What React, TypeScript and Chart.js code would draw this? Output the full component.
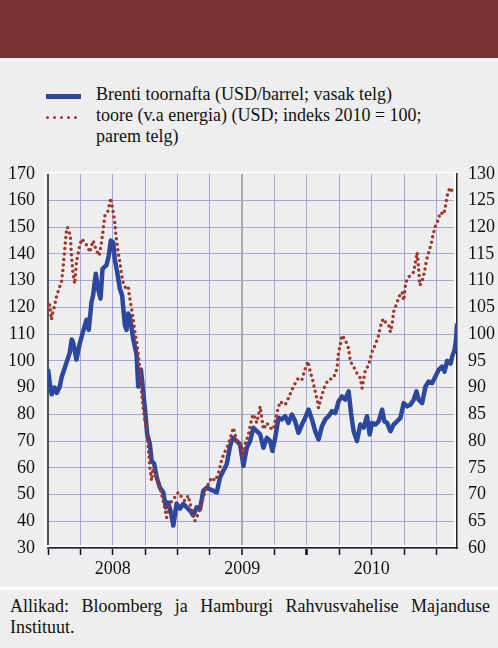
import React, { useEffect, useRef } from 'react';
import { Chart, registerables } from 'chart.js';

Chart.register(...registerables);

// Months since January 2008 (0 = 1 Jan 2008)
const brentMonths = [
  0, 0.16, 0.34, 0.62, 0.81, 1.09, 1.27, 1.74, 2.01, 2.2, 2.32, 2.64, 2.94, 3.25, 3.57, 3.78,
  4.03, 4.18, 4.43, 4.64, 4.87, 5.05, 5.42, 5.64, 5.82, 6.04, 6.19, 6.41, 6.66, 6.87, 7.12,
  7.28, 7.43, 7.59, 7.89, 8.21, 8.36, 8.61, 8.82, 8.98, 9.19, 9.44, 9.6, 9.84, 10.07, 10.37,
  10.68, 10.93, 11.14, 11.39, 11.61, 11.92, 12.23, 12.53, 12.85, 13.16, 13.46, 13.78, 14.09,
  14.39, 14.71, 15.01, 15.32, 15.64, 15.94, 16.25, 16.56, 16.87, 17.12, 17.49, 17.8, 18.11,
  18.42, 18.73, 19.03, 19.35, 19.66, 19.96, 20.28, 20.58, 20.8, 21.05, 21.36, 21.67, 21.98,
  22.28, 22.6, 22.91, 23.21, 23.53, 23.84, 24.14, 24.46, 24.76, 25.07, 25.39, 25.69, 26.0,
  26.31, 26.62, 26.93, 27.24, 27.55, 27.86, 28.08, 28.32, 28.63, 28.94, 29.25, 29.56, 29.81,
  30.03, 30.33, 30.64, 30.96, 31.17, 31.42, 31.73, 32.03, 32.35, 32.66, 32.96, 33.28, 33.58,
  33.89, 34.14, 34.35, 34.67, 34.98, 35.28, 35.6, 35.9, 36.21, 36.53, 36.74, 36.99, 37.3,
  37.48, 37.67, 37.81, 37.9,
];
const brentPrices = [
  97, 92, 87.5, 90, 88, 90.4, 94, 99.7, 103, 108, 107, 100.5, 106.5, 111, 115.4, 111.6,
  122, 124.6, 132.6, 127, 123.3, 134.4, 135.8, 139.5, 145, 144.3, 138, 133.2, 127, 124.5, 113.4,
  111.6, 117.7, 116.5, 108.4, 102.2, 90.4, 96.8, 88.6, 82.4, 72.6, 68.9, 62.6, 61.5, 56.4, 52.6,
  50.8, 45.2, 47, 43.3, 38.4, 46.6, 44.7, 46.5, 45.2, 44, 42.1, 45.2, 44.6,
  51.4, 52.6, 52, 51.4, 50.8, 56.4, 58.9, 61.3, 68.1, 71.2, 70, 68.8, 60.7,
  67.5, 70, 75, 73.7, 72.5, 67.5, 71.2, 70, 66.3, 71.2, 78.7, 78.1, 79.3,
  76.8, 79.9, 77.4, 73.1, 76.2, 78.7, 81.8, 78.1, 73.7, 70.6, 75.6, 78.1, 79.3,
  81.2, 80.5, 84.9, 86.7, 85.5, 88.6, 80.5, 73.7, 70, 76.2, 75, 79.3, 72.5,
  76.8, 76.2, 77.4, 81.8, 77.4, 76.8, 73.7, 76.2, 77.4, 78.7, 84.2, 83, 83.6,
  85.5, 88.6, 85.5, 84.2, 90.4, 92.3, 91.7, 94.2, 96.7, 97.9, 96, 100, 99,
  102, 104, 108, 114,
];

const commodityMonths = [
  0, 0.16, 0.32, 0.46, 0.62, 0.78, 1.02, 1.24, 1.39, 1.55, 1.71, 1.8, 1.95, 2.08, 2.17, 2.32,
  2.48, 2.64, 2.88, 3.1, 3.41, 3.71, 3.87, 4.18, 4.49, 4.74, 4.96, 5.11, 5.26, 5.57, 5.73,
  5.82, 6.04, 6.19, 6.29, 6.5, 6.66, 6.82, 6.96, 7.21, 7.43, 7.59, 7.74, 7.89, 8.05, 8.21,
  8.36, 8.51, 8.67, 8.82, 8.98, 9.14, 9.29, 9.44, 9.6, 9.75, 10.07, 10.37, 10.68, 10.99, 11.3,
  11.76, 12.07, 12.39, 12.69, 13.0, 13.31, 13.62, 13.93, 14.24, 14.55, 14.86, 15.17, 15.48,
  15.78, 16.1, 16.41, 16.71, 16.94, 17.18, 17.49, 17.8, 18.05, 18.26, 18.57, 18.89, 19.03,
  19.35, 19.66, 19.96, 20.28, 20.58, 20.89, 21.21, 21.51, 21.98, 22.28, 22.6, 22.91, 23.21,
  23.53, 23.84, 24.09, 24.3, 24.55, 24.76, 24.98, 25.07, 25.39, 25.69, 26.0, 26.46, 26.78,
  26.93, 27.09, 27.24, 27.55, 27.86, 28.01, 28.32, 28.63, 28.94, 29.1, 29.41, 29.71, 30.03,
  30.33, 30.64, 30.8, 31.05, 31.26, 31.57, 31.73, 31.88, 32.03, 32.35, 32.59, 32.81, 32.96,
  33.12, 33.28, 33.58, 33.89, 34.05, 34.21, 34.35, 34.45, 34.67, 34.88, 35.07, 35.28, 35.51,
  35.69, 35.9, 36.12, 36.37, 36.68, 36.83, 36.99, 37.23, 37.46, 37.51,
];
const commodityIndex = [
  104.5, 105.5, 102.7, 104.2, 105.4, 107, 108.5, 109.7, 112.2, 115.9, 119.4, 120, 119.3, 118.1, 114.7, 111.3,
  109.4, 113.5, 116, 117.8, 117.2, 116.2, 115.3, 117.5, 115.6, 114.7, 117.2, 119.6, 122.1, 123.1, 124.6,
  125.5, 122.8, 120.9, 118.4, 115.3, 113.5, 111, 109.7, 108.5, 108.8, 106.6, 104.8, 102.9, 100.4, 98.6,
  96.2, 93.6, 89.3, 86.2, 83.7, 81.9, 78.8, 75, 72.6, 75, 73.2, 71.3, 68.8, 65.7, 68.3,
  69.5, 70.4, 69.5, 68.8, 69.8, 67, 65.1, 66.4, 68.2, 70.7, 72, 73.2, 72.6,
  73.8, 76.6, 78.1, 79.4, 80.9, 82.5, 80, 79.4, 76.9, 79.4, 81.2, 84.3, 85,
  83.4, 86.5, 82.2, 83.4, 82.5, 82.2, 85.3, 87.4, 86.8, 88, 89.6, 90.8, 91.8,
  91.5, 93.6, 94.9, 93, 91.2, 89.3, 87.4, 86.2, 88.7, 90.5, 91.5, 91.8, 93.6,
  96.7, 98, 99.8, 98.9, 97.3, 94.9, 93.9, 92.7, 91.8, 89.9, 93.3, 94.2, 96.7,
  98, 99.8, 101.4, 102.9, 102.3, 101.7, 100.4, 101.7, 104.2, 106, 107.3, 107.9, 106.3,
  109.1, 110.4, 111, 111.6, 113.5, 115.3, 112.2, 109.1, 110, 111.6, 113.8, 115.3, 116.9,
  118.7, 120.3, 121.2, 122.8, 122.4, 124, 125.9, 127.4, 126.8, 126.5,
];

const quarterTicks = [0, 3, 6, 9, 12, 15, 18, 21, 24, 27, 30, 33, 36];
const yearLabelTicks = [6, 18, 30];
const yearLabels = ['2008', '2009', '2010'];
const legendLabels = [
  'Brenti toornafta (USD/barrel; vasak telg)',
  'toore (v.a energia) (USD; indeks 2010 = 100;',
  'parem telg)',
];
const sourceText = 'Allikad: Bloomberg ja Hamburgi Rahvusvahelise Majanduse Instituut.';

const BLUE = '#2c489e';
const RED = '#a0372d';
const GRID = '#a2a6d8';
const BG = '#eeeeee';
const SERIF = '"Liberation Serif", Tinos, "Nimbus Roman", "Times New Roman", Times, "DejaVu Serif", serif';

const framePlugin = {
  id: 'whiteFrame',
  beforeDatasetsDraw(chart: any) {
    const { ctx, chartArea: a } = chart;
    ctx.save();
    ctx.strokeStyle = '#ffffff';
    ctx.lineWidth = 2;
    const x1 = a.left - 3;
    const y1 = a.top - 1;
    const x2 = a.right - 2;
    const y2 = a.bottom - 2;
    ctx.strokeRect(x1, y1, x2 - x1, y2 - y1);
    ctx.restore();
  },
};

export default function App() {
  const ref = useRef<HTMLCanvasElement>(null);

  useEffect(() => {
    const canvas = ref.current;
    if (!canvas) return;
    const font = { family: SERIF, size: 18 };
    const chart = new Chart(canvas, {
      type: 'line',
      data: {
        datasets: [
          {
            label: legendLabels[1],
            data: commodityMonths.map((m, i) => ({ x: m, y: commodityIndex[i] })),
            yAxisID: 'y1',
            borderColor: RED,
            borderWidth: 3.5,
            borderDash: [0, 5.5],
            borderCapStyle: 'round',
            pointRadius: 0,
            tension: 0,
            fill: false,
            order: 0,
          },
          {
            label: legendLabels[0],
            data: brentMonths.map((m, i) => ({ x: m, y: brentPrices[i] })),
            yAxisID: 'y',
            borderColor: BLUE,
            borderWidth: 4.5,
            borderJoinStyle: 'round',
            pointRadius: 0,
            tension: 0,
            fill: false,
            order: 1,
          },
        ],
      },
      options: {
        animation: false,
        responsive: false,
        devicePixelRatio: 1,
        events: [],
        layout: { padding: { top: 21, left: 0, right: 0, bottom: 0 } },
        plugins: { legend: { display: false }, tooltip: { enabled: false } },
        scales: {
          x: {
            type: 'linear',
            min: 0,
            max: 37.9,
            afterBuildTicks: (scale: any) => {
              scale.ticks = quarterTicks.map((v) => ({ value: v }));
            },
            afterFit: (scale: any) => {
              scale.height = 38;
            },
            ticks: {
              autoSkip: false,
              maxRotation: 0,
              font,
              color: '#111',
              padding: 3,
              callback: (value: any) => {
                const i = yearLabelTicks.indexOf(Number(value));
                return i >= 0 ? yearLabels[i] : '';
              },
            },
            grid: {
              color: (c: any) =>
                c.tick && c.tick.value === 0 ? 'rgba(0,0,0,0)' : c.tick && c.tick.value === 18 ? '#a9a9a9' : GRID,
              lineWidth: (c: any) => (c.tick && c.tick.value === 18 ? 2 : 1),
              tickColor: '#111',
              tickLength: 7,
              tickWidth: (c: any) => (c.tick && c.tick.value === 24 ? 2.5 : 1.5),
            },
            border: { display: true, color: '#222', width: 1.5 },
          },
          y: {
            position: 'left',
            min: 30,
            max: 170,
            afterFit: (scale: any) => {
              scale.width = 48;
            },
            ticks: { stepSize: 10, font, color: '#111', padding: 13 },
            grid: { color: GRID, lineWidth: 1, drawTicks: false },
            border: { display: true, color: '#555', width: 2 },
          },
          y1: {
            position: 'right',
            min: 60,
            max: 130,
            afterFit: (scale: any) => {
              scale.width = 41;
            },
            ticks: { stepSize: 5, font, color: '#111', padding: 11 },
            grid: { drawOnChartArea: false, drawTicks: false },
            border: { display: true, color: '#222', width: 1.5 },
          },
        },
      },
      plugins: [framePlugin],
    } as any);
    return () => chart.destroy();
  }, []);

  const dots = [0, 1, 2, 3, 4];

  return (
    <div
      style={{
        position: 'absolute',
        left: 0,
        top: 0,
        width: 498,
        height: 648,
        background: BG,
        overflow: 'hidden',
        fontFamily: SERIF,
        color: '#111',
      }}
    >
      <div style={{ position: 'absolute', left: 0, top: 0, width: 498, height: 58, background: '#793134' }} />
      <div style={{ position: 'absolute', left: 0, top: 58, width: 498, height: 3, background: '#ffffff' }} />

      {/* legend */}
      <div style={{ position: 'absolute', left: 46, top: 94, width: 35, height: 5, background: BLUE }} />
      {dots.map((d) => (
        <div
          key={d}
          style={{
            position: 'absolute',
            left: 46 + d * 7,
            top: 116,
            width: 3,
            height: 3,
            borderRadius: '50%',
            background: RED,
          }}
        />
      ))}
      <div
        style={{
          position: 'absolute',
          left: 96,
          top: 84,
          fontSize: 18,
          lineHeight: '21px',
          whiteSpace: 'nowrap',
        }}
      >
        {legendLabels[0]}
        <br />
        {legendLabels[1]}
        <br />
        {legendLabels[2]}
      </div>

      <canvas
        ref={ref}
        width={498}
        height={436}
        style={{ position: 'absolute', left: 0, top: 150, width: 498, height: 436 }}
      />

      <div style={{ position: 'absolute', left: 0, top: 587, width: 498, height: 3, background: '#ffffff' }} />
      <div
        style={{
          position: 'absolute',
          left: 10,
          top: 596,
          width: 480,
          fontSize: 18,
          lineHeight: '21px',
          textAlign: 'justify',
        }}
      >
        {sourceText}
      </div>
    </div>
  );
}
